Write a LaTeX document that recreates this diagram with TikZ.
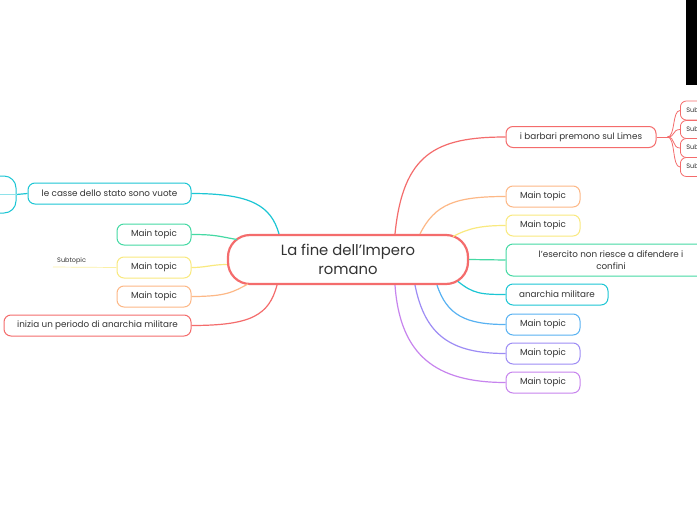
\documentclass[tikz,border=0pt]{standalone}
\usepackage{fontspec}
\setmainfont{Poppins}
\usetikzlibrary{calc}
\definecolor{cred}{HTML}{F46C6C}
\definecolor{corange}{HTML}{FDB886}
\definecolor{cyellow}{HTML}{F9E97E}
\definecolor{cgreen}{HTML}{45D9A4}
\definecolor{ccyan}{HTML}{1CC6D4}
\definecolor{cblue}{HTML}{58B2F2}
\definecolor{cviolet}{HTML}{9D8CF5}
\definecolor{cpurple}{HTML}{C784EE}
\definecolor{ctxt}{HTML}{333333}
\begin{document}
\begin{tikzpicture}[x=1pt,y=-1pt,
  topic/.style={draw, rounded corners=7pt, line width=1pt, fill=white, text=ctxt,
    minimum height=21pt, inner sep=0pt, font=\fontsize{8.8}{11.5}\selectfont},
  sub/.style={draw, rounded corners=6pt, line width=0.8pt, fill=white, text=ctxt,
    inner xsep=6pt, inner ysep=0pt, font=\fontsize{6.5}{7.5}\selectfont},
  conn/.style={line width=1.2pt},
  central/.style={draw=cred, rounded corners=22pt, line width=2.2pt, fill=white, text=ctxt,
    minimum width=240pt, minimum height=49pt, inner sep=0pt, align=center,
    font=\fontsize{14.8}{18.5}\selectfont}]
\useasboundingbox (0,0) rectangle (697,520);
\fill[white] (0,0) rectangle (697,520);
\fill[black] (686,0) rectangle (697,85);

% nodes
\node[central] (c) at (348,259.5) {La fine dell'Impero\\romano};

\node[topic, draw=cred, minimum width=150pt] (rb) at (581,137) {i barbari premono sul Limes};
\node[topic, draw=corange, minimum width=74pt] (r1) at (543,196.5) {Main topic};
\node[topic, draw=cyellow, minimum width=74pt] (r2) at (543,225.5) {Main topic};
\node[topic, draw=cgreen, minimum width=210pt, minimum height=32pt, align=center] (re) at (611,260) {l'esercito non riesce a difendere i\\confini};
\node[topic, draw=ccyan, minimum width=102pt] (ra) at (557,294.5) {anarchia militare};
\node[topic, draw=cblue, minimum width=74pt] (r3) at (543,324.5) {Main topic};
\node[topic, draw=cviolet, minimum width=74pt] (r4) at (543,353.5) {Main topic};
\node[topic, draw=cpurple, minimum width=74pt] (r5) at (543,382.5) {Main topic};

\node[topic, draw=ccyan, minimum width=163pt] (lc) at (109.5,193.5) {le casse dello stato sono vuote};
\node[topic, draw=cgreen, minimum width=74pt] (l1) at (154,234.5) {Main topic};
\node[topic, draw=cyellow, minimum width=74pt] (l2) at (154,267.5) {Main topic};
\node[topic, draw=corange, minimum width=74pt] (l3) at (154,296.5) {Main topic};
\node[topic, draw=cred, minimum width=187pt] (li) at (97.5,325.5) {inizia un periodo di anarchia militare};

% subtopics right (cut off by the edge, as in the reference)
\node[sub, draw=cred, minimum height=19pt, anchor=west] (s1) at (680,110.5) {Subtopic};
\node[sub, draw=cred, minimum height=18pt, anchor=west] (s2) at (680,129.5) {Subtopic};
\node[sub, draw=cred, minimum height=19pt, anchor=west] (s3) at (680,148) {Subtopic};
\node[sub, draw=cred, minimum height=19pt, anchor=west] (s4) at (680,167) {Subtopic};
\coordinate (j) at ($(rb.east)+(11,0)$);
\draw[cred, line width=0.9pt] (rb.east) -- (j);
\foreach \s in {s1,s2,s3,s4}
  \draw[cred, line width=0.8pt] (j) .. controls +(8,0) and +(-8,0) .. (\s.west);

% subtopic left (cut off)
\node[draw=ccyan, rounded corners=12pt, line width=1pt, minimum width=92pt, minimum height=37pt] (lsub) at (-30,194.5) {};
\draw[conn, ccyan] (lc.west) -- (lsub.east);
\draw[ccyan!50, line width=1pt] (lsub.east) -- (lsub.west);

% subtopic left of yellow
\node[anchor=south west, inner xsep=4pt, inner ysep=3pt, text=ctxt, font=\fontsize{6.5}{7.5}\selectfont] (st) at (53,267) {Subtopic};
\draw[cyellow!70!white, line width=0.7pt] (l2.west) -- (st.south west);

% connectors left
\draw[conn, ccyan] (lc.east) .. controls +(60,0) and +(-8,-28) .. ($(c.north)+(-69,0)$);
\draw[conn, cgreen] (l1.east) .. controls +(25,0) and +(-18,-3) .. ($(c.center)+(-111,-20)$);
\draw[conn, cyellow] (l2.east) .. controls +(15,0) and +(-15,0) .. ($(c.west)+(0,5)$);
\draw[conn, corange] (l3.east) .. controls +(35,0) and +(-15,8) .. ($(c.center)+(-100,24.5)$);
\draw[conn, cred] (li.east) .. controls +(60,0) and +(-8,30) .. ($(c.south)+(-71,0)$);

% connectors right
\draw[conn, cred] ($(c.north)+(47,0)$) .. controls +(8,-80) and +(-70,0) .. (rb.west);
\draw[conn, corange] ($(c.north)+(72,0)$) .. controls +(15,-30) and +(-50,0) .. (r1.west);
\draw[conn, cyellow] ($(c.center)+(105,-23)$) .. controls +(15,-8) and +(-25,0) .. (r2.west);
\draw[conn, cgreen] (c.east) -- (re.west);
\draw[conn, ccyan] ($(c.center)+(110,22)$) .. controls +(15,12) and +(-25,0) .. (ra.west);
\draw[conn, cblue] ($(c.south)+(89,0)$) .. controls +(10,30) and +(-40,0) .. (r3.west);
\draw[conn, cviolet] ($(c.south)+(67,0)$) .. controls +(10,50) and +(-55,0) .. (r4.west);
\draw[conn, cpurple] ($(c.south)+(47,0)$) .. controls +(5,70) and +(-70,0) .. (r5.west);
\end{tikzpicture}
\end{document}
